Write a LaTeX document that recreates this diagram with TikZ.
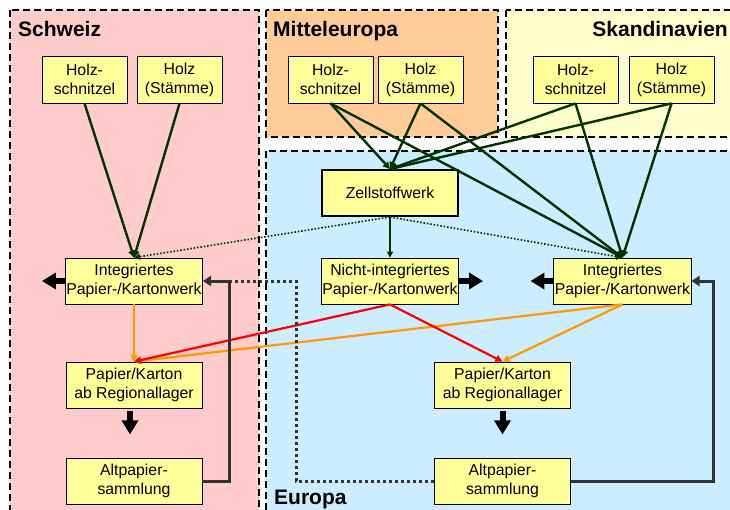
\documentclass[tikz,border=0pt]{standalone}
\usepackage{fontspec}
\setmainfont{Liberation Sans}
\usetikzlibrary{arrows.meta}

\definecolor{schweizbg}{HTML}{FFCCCC}
\definecolor{mittelbg}{HTML}{FFCC99}
\definecolor{skandbg}{HTML}{FFFFCC}
\definecolor{europabg}{HTML}{CCECFF}
\definecolor{boxfill}{HTML}{FFFF99}
\definecolor{woodgreen}{HTML}{003300}
\definecolor{paperorange}{HTML}{FF9900}
\definecolor{recycgray}{HTML}{333333}

\tikzstyle{region} = [draw=black,line width=1.8pt,dash pattern=on 7pt off 4pt]
\tikzstyle{region label} = [font=\fontsize{21}{24}\selectfont\bfseries,inner sep=0pt]
\tikzstyle{wood} = [draw,fill=boxfill,line width=0.8pt,align=center,minimum width=85pt,minimum height=47pt,inner sep=1pt]
\tikzstyle{plant} = [draw,fill=boxfill,line width=0.8pt,align=center,minimum width=136pt,minimum height=46pt,inner sep=1pt]
\tikzstyle{wood edge} = [draw,woodgreen,line width=2.4pt,-{Triangle[length=7pt,width=7pt]}]
\tikzstyle{pulp edge} = [draw,woodgreen,line width=1.6pt,-{Triangle[length=6pt,width=6pt]}]
\tikzstyle{pulp dotted} = [draw,woodgreen,line width=1.6pt,dash pattern=on 1.6pt off 1.8pt,-{Triangle[length=6pt,width=6pt]}]
\tikzstyle{paper edge} = [draw,line width=2.2pt,-{Triangle[length=7pt,width=7pt]}]
\tikzstyle{recycle edge} = [draw,recycgray,line width=3pt,-{Triangle[length=8pt,width=10pt]}]
\tikzstyle{recycle dotted} = [draw,recycgray,line width=3pt,dash pattern=on 3pt off 3pt]
\tikzstyle{out arrow} = [draw,black,line width=6pt,-{Triangle[length=14pt,width=16pt]}]

\begin{document}
\begin{tikzpicture}[x=1pt,y=-1pt,font=\fontsize{15.8}{19}\selectfont]
     \useasboundingbox (0,0) rectangle (730,509);
     \clip (0,0) rectangle (730,509);
     % Regions
     \path[region,fill=schweizbg] (10,10) rectangle (259,530);
     \path[region,fill=mittelbg] (266,10) rectangle (498,137);
     \path[region,fill=skandbg] (506,10) rectangle (750,137);
     \path[region,fill=europabg] (266,151) rectangle (750,530);
     \node[region label,anchor=base west] (tschweiz) at (18,36) {Schweiz};
     \node[region label,anchor=base west] (tmittel) at (273,36) {Mitteleuropa};
     \node[region label,anchor=base east] (tskand) at (728,36) {Skandinavien};
     \node[region label,anchor=base west] (teuropa) at (274,504) {Europa};

     % Wood sources
     \foreach \pos/\name in {{(84.5,79.5)/swchip},{(330.5,79.5)/mechip},{(575.5,79.5)/skchip}}
     \node[wood] (\name) at \pos {Holz-\\schnitzel};
     \foreach \pos/\name in {{(179.5,79.5)/swlog},{(420.5,79.5)/melog},{(671.5,79.5)/sklog}}
     \node[wood] (\name) at \pos {Holz\\(Stämme)};

     % Plants and stores
     \node[plant,line width=2pt] (zell) at (390,193) {Zellstoffwerk};
     \foreach \pos/\name in {{(134,281)/swint},{(622.5,281)/euint}}
     \node[plant] (\name) at \pos {Integriertes\\Papier-/Kartonwerk};
     \node[plant] (nint) at (390,281) {Nicht-integriertes\\Papier-/Kartonwerk};
     \foreach \pos/\name in {{(134,385)/swpap},{(502.5,385)/eupap}}
     \node[plant] (\name) at \pos {Papier/Karton\\ab Regionallager};
     \foreach \pos/\name in {{(134,481)/swalt},{(502.5,481)/eualt}}
     \node[plant] (\name) at \pos {Altpapier-\\sammlung};

     % Wood and pulp flows
     \foreach \source in {swchip,swlog}
     \path[wood edge] (\source.south) -- (swint.north);
     \foreach \source in {mechip,melog,skchip,sklog}{
       \path[wood edge] (\source.south) -- (zell.north);
       \path[wood edge] (\source.south) -- (euint.north);
     }
     \path[pulp edge] (zell.south) -- (nint.north);
     \foreach \dest in {swint,euint}
     \path[pulp dotted] (zell.south) -- (\dest.north);

     % Paper flows
     \foreach \source/\dest in {swint/swpap, euint/swpap, euint/eupap}
     \path[paper edge,paperorange] (\source.south) -- (\dest.north);
     \foreach \dest in {swpap,eupap}
     \path[paper edge,red] (nint.south) -- (\dest.north);

     % Recycling
     \path[recycle dotted] (eualt.west) -- ++(-138,0) |- ([xshift=27pt]swint.east);
     \path[recycle edge] (swalt.east) -- ++(27,0) |- (swint.east);
     \path[recycle edge] (eualt.east) -- ++(143,0) |- (euint.east);

     % Outflows
     \path[out arrow] (swint.west) -- ++(-23,0);
     \path[out arrow] (nint.east) -- ++(24,0);
     \path[out arrow] (euint.west) -- ++(-23,0);
     \path[out arrow] ([xshift=-4pt,yshift=-3pt]swpap.south) -- ++(0,23);
     \path[out arrow] ([yshift=-3pt]eupap.south) -- ++(0,23);
\end{tikzpicture}
\end{document}
